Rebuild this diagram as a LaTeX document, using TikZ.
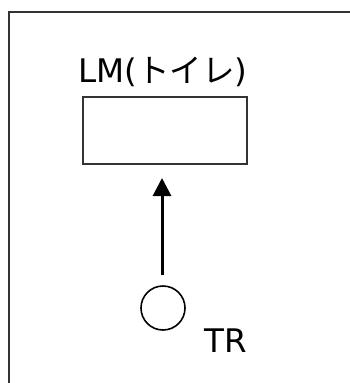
\documentclass[tikz,border=0pt]{standalone}
\usepackage{fontspec}
\setmainfont{DejaVu Sans}
\newfontfamily\cjk{Noto Sans CJK JP}
\usetikzlibrary{arrows.meta}
\begin{document}
\begin{tikzpicture}[x=1pt,y=-1pt,
  lbl/.style={inner sep=0pt,font=\fontsize{32.5}{33}\selectfont},
  box/.style={draw=black!80,line width=1.6pt},
  conn/.style={line width=3pt,-{Triangle[length=18pt,width=18pt]}}]
\useasboundingbox (0,0) rectangle (350,383);
\fill[white] (0,0) rectangle (350,383);
\coordinate (fb) at (9,383);
\coordinate (ft) at (9,12);
\coordinate (fr) at (350,12);
\draw[line width=2pt,draw=black!80] (fb) -- (ft) -- (fr);
\node[box,minimum width=164pt,minimum height=67pt,inner sep=0pt] (lm) at (165,130.5) {};
\node[lbl,anchor=base] (lmt) at (163,82) {LM({\cjk トイレ})};
\node[draw,line width=1.6pt,circle,minimum size=44pt,inner sep=0pt] (tr) at (163,308) {};
\node[lbl,anchor=base west] (trt) at (204,352.5) {TR};
\coordinate (tail) at (162,275);
\coordinate (tip) at (162,178);
\draw[conn] (tail) -- (tip);
\end{tikzpicture}
\end{document}
